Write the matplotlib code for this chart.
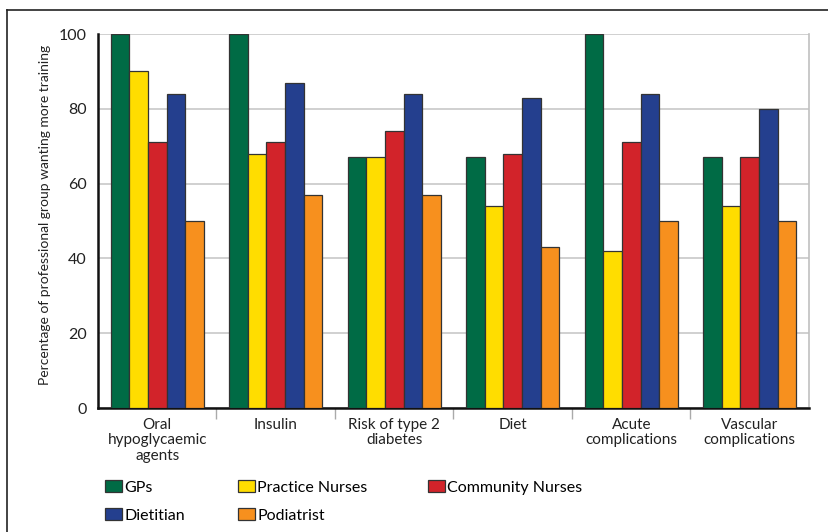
import matplotlib
matplotlib.use("Agg")
import matplotlib.pyplot as plt
import numpy as np
from matplotlib.lines import Line2D

plt.rcParams['font.family'] = ['Lato', 'DejaVu Sans']

categories = ["Oral\nhypoglycaemic\nagents", "Insulin", "Risk of type 2\ndiabetes",
              "Diet", "Acute\ncomplications", "Vascular\ncomplications"]
series_names = ["GPs", "Practice Nurses", "Community Nurses", "Dietitian", "Podiatrist"]
gps = [100, 100, 67, 67, 100, 67]
practice_nurses = [90, 68, 67, 54, 42, 54]
community_nurses = [71, 71, 74, 68, 71, 67]
dietitian = [84, 87, 84, 83, 84, 80]
podiatrist = [50, 57, 57, 43, 50, 50]
yticks = [0, 20, 40, 60, 80, 100]
ylabel = "Percentage of professional group wanting more training"

colors = ["#006B45", "#FFDD00", "#D2232A", "#243F8E", "#F7901E"]
values = [gps, practice_nurses, community_nurses, dietitian, podiatrist]

W, H = 829, 532
fig = plt.figure(figsize=(W / 100, H / 100), dpi=100)
ax = fig.add_axes([98 / W, 1 - 408 / H, (809 - 98) / W, (408 - 34) / H])

x = np.arange(len(categories))
bw = 0.157
handles = []
for i, (name, vals, c) in enumerate(zip(series_names, values, colors)):
    b = ax.bar(x + (i - 2) * bw, vals, width=bw, color=c, edgecolor="#333333",
               linewidth=0.9, label=name, zorder=3)
    handles.append(b)

ax.set_xlim(-0.5, len(categories) - 0.5)
ax.set_ylim(0, 100)
ax.set_yticks(yticks)
ax.set_yticklabels([str(t) for t in yticks], fontsize=11.5, color="#222222")
ax.yaxis.grid(True, color="#c8c8c8", linewidth=1.2, zorder=0)
ax.set_axisbelow(True)
ax.tick_params(axis='y', length=0, pad=8)

ax.set_xticks(x)
ax.set_xticklabels(categories, fontsize=11, color="#222222", linespacing=1.15)
ax.set_xticks(np.arange(0.5, len(categories) - 0.5, 1), minor=True)
ax.tick_params(axis='x', which='major', length=0, pad=7)
ax.tick_params(axis='x', which='minor', length=8, color="#aaaaaa", width=1)

for s in ["left", "bottom"]:
    ax.spines[s].set_color("#111111")
    ax.spines[s].set_linewidth(1.8)
ax.spines["right"].set_color("#c0c0c0")
ax.spines["right"].set_linewidth(1.2)
ax.spines["top"].set_visible(False)

ax.set_ylabel(ylabel, fontsize=10, color="#222222")
ax.yaxis.set_label_coords((51 - 98) / (809 - 98), 0.517)

# Legend: three columns placed explicitly
cols = [([0, 3], 105), ([1, 4], 238), ([2], 428)]
for idx, xpos in cols:
    fig.legend([handles[i] for i in idx], [series_names[i] for i in idx],
               loc="upper left", bbox_to_anchor=(xpos / W, 1 - 480 / H),
               frameon=False, fontsize=11.5, handlelength=1.05, handleheight=0.8,
               handletextpad=0.15, labelspacing=0.85, borderpad=0, borderaxespad=0)

# outer frame (clipped on right/bottom)
fig.add_artist(Line2D([7 / W, 1], [1 - 10 / H, 1 - 10 / H], transform=fig.transFigure,
                      color="#222222", linewidth=1.2))
fig.add_artist(Line2D([7 / W, 7 / W], [0, 1 - 10 / H], transform=fig.transFigure,
                      color="#222222", linewidth=1.2))

fig.savefig("out.png", dpi=100)
